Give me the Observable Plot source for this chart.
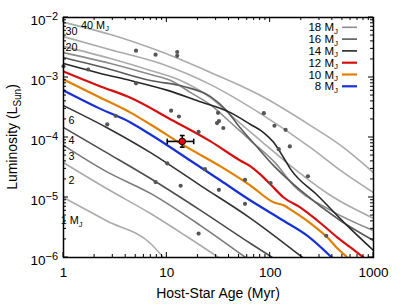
<!DOCTYPE html>
<html><head><meta charset="utf-8">
<script src="https://cdn.jsdelivr.net/npm/d3@7"></script>
<script src="https://cdn.jsdelivr.net/npm/@observablehq/plot@0.6"></script>
<style>
html,body{margin:0;padding:0;background:#fff;}
#chart svg{display:block;font-family:"Liberation Sans",Arial,sans-serif;}
</style></head><body><div id="chart"></div>
<script>
// Evolutionary tracks: age (Myr) and luminosity (L_Sun)
const age40 = [1, 2.85, 8.69, 26.5, 80.7, 246, 514, 1000];
const lum40 = [8.3e-3, 5.2e-3, 2.7e-3, 1.21e-3, 5.0e-4, 1.58e-4, 6.8e-5, 2.6e-5];
const age30 = [1, 2.85, 8.69, 26.5, 80.7, 246, 514, 1000];
const lum30 = [4.8e-3, 2.9e-3, 1.71e-3, 7.6e-4, 2.5e-4, 6.8e-5, 2.6e-5, 1.21e-5];
const age20 = [1, 2.85, 6.95, 13.6, 26.5, 46.3, 80.7, 157, 385, 1000];
const lum20 = [3.3e-3, 2.07e-3, 1.31e-3, 8.9e-4, 4.6e-4, 2.0e-4, 8.9e-5, 3.4e-5, 1.08e-5, 4.5e-6];
const age18 = [1, 2.85, 6.95, 10.9, 17.0, 26.5, 41.4, 64.6, 113, 169, 385, 1000];
const lum18 = [2.6e-3, 1.71e-3, 1.12e-3, 8.9e-4, 5.6e-4, 3.5e-4, 1.78e-4, 8.9e-5, 3.7e-5, 1.58e-5, 6.1e-6, 2.8e-6];
const age16 = [1, 2.85, 6.95, 14.5, 26.5, 38.7, 48.3, 72.2, 108, 197, 480, 1000];
const lum16 = [2.15e-3, 1.36e-3, 8.9e-4, 7.1e-4, 4.8e-4, 2.7e-4, 1.65e-4, 7.4e-5, 3.4e-5, 1.31e-5, 4.1e-6, 1.92e-6];
const age14 = [1, 2.28, 4.45, 10.2, 19.8, 41.4, 64.6, 86.3, 108, 135, 157, 288, 600, 1000];
const lum14 = [1.71e-3, 1.17e-3, 8.9e-4, 6.1e-4, 4.1e-4, 2.6e-4, 1.65e-4, 1.21e-4, 8.3e-5, 4.6e-5, 3.0e-5, 1.08e-5, 3.0e-6, 1.31e-6];
const age12 = [1, 2.28, 4.45, 11.4, 26.5, 51.7, 64.6, 80.7, 101, 135, 197, 288, 449, 600, 802];
const lum12 = [1.26e-3, 7.1e-4, 4.6e-4, 1.92e-4, 8.6e-5, 4.1e-5, 3.3e-5, 2.4e-5, 1.65e-5, 1.0e-5, 6.8e-6, 4.1e-6, 2.15e-6, 1.47e-6, 1.0e-6];
const age10 = [1, 2.28, 4.45, 6.95, 14.2, 33.1, 64.6, 108, 135, 169, 246, 359, 449, 562];
const lum10 = [9.3e-4, 4.6e-4, 2.6e-4, 1.65e-4, 7.6e-5, 3.3e-5, 1.58e-5, 8.3e-6, 7.4e-6, 5.8e-6, 3.7e-6, 2.15e-6, 1.41e-6, 1.0e-6];
const age8 = [1, 2.28, 4.45, 6.95, 17.0, 33.1, 64.6, 135, 230, 395];
const lum8 = [6.1e-4, 3.0e-4, 1.78e-4, 1.12e-4, 4.1e-5, 1.92e-5, 8.9e-6, 4.1e-6, 2.3e-6, 1.0e-6];
const age6 = [1, 2.61, 6.95, 21.2, 64.6, 206];
const lum6 = [3.4e-4, 1.47e-4, 5.6e-5, 1.58e-5, 4.5e-6, 1.0e-6];
const age4 = [1, 2.61, 6.95, 21.2, 64.6, 105];
const lum4 = [1.47e-4, 5.6e-5, 2.07e-5, 6.1e-6, 1.71e-6, 1.0e-6];
const age3 = [1, 2.61, 6.95, 21.2, 57.8];
const lum3 = [7.4e-5, 2.7e-5, 1.17e-5, 3.4e-6, 1.0e-6];
const age2 = [1, 2.61, 6.95, 15.2, 31.7];
const lum2 = [3.8e-5, 1.41e-5, 5.4e-6, 2.3e-6, 1.0e-6];
const age1 = [1, 2.61, 6.95, 9.29];
const lum1 = [1.0e-5, 4.1e-6, 1.71e-6, 1.0e-6];

// Known companions (gray dots)
const dotAge = [1, 1.73, 5.03, 7.78, 12.6, 12.6, 5.03, 2.65, 3.19, 11.0, 13.1, 20.3, 31.3, 30.6, 32.0, 35.2, 86.9, 110, 141, 121, 155, 10.1, 7.78, 13.6, 23.4, 31.9, 57.1, 57.1, 20.3, 101, 232, 349];
const dotLum = [1.54e-3, 1.36e-3, 2.8e-3, 2.4e-3, 2.66e-3, 2.3e-3, 8.0e-4, 1.65e-4, 2.3e-4, 2.8e-4, 2.24e-4, 1.24e-4, 2.58e-4, 1.74e-4, 1.88e-4, 1.44e-4, 2.54e-4, 1.57e-4, 1.34e-4, 6.4e-5, 7.1e-5, 3.7e-5, 1.81e-5, 1.57e-5, 2.96e-5, 1.34e-5, 1.97e-5, 7.85e-6, 2.5e-6, 1.74e-5, 2.26e-5, 2.3e-6];

// Highlighted object with error bars
const starAge = 14.1, starAgeLo = 10.1, starAgeHi = 18.2;
const starLum = 8.6e-5, starLumLo = 6.9e-5, starLumHi = 1.08e-4;

// Legend
const legendMass = [18, 16, 14, 12, 10, 8];

// Curve labels
const labelText = ["40", "30", "20", "6", "4", "3", "2", "1"];
const labelUnit = [true, false, false, false, false, false, false, true];
const labelAge = [2.04, 1.21, 1.21, 1.21, 1.21, 1.21, 1.21, 1.21];
const labelLum = [7.36e-3, 5.8e-3, 3.1e-3, 1.92e-4, 8.9e-5, 4.73e-5, 1.92e-5, 4.1e-6];

// Axes
const xMajor = [1, 10, 100, 1000];
const yMajor = [1e-6, 1e-5, 1e-4, 1e-3, 1e-2];

const tracks = [
  {m: 40, age: age40, lum: lum40, color: "#ababab", w: 1.6},
  {m: 30, age: age30, lum: lum30, color: "#ababab", w: 1.6},
  {m: 20, age: age20, lum: lum20, color: "#ababab", w: 1.6},
  {m: 18, age: age18, lum: lum18, color: "#8c8c8c", w: 1.6},
  {m: 16, age: age16, lum: lum16, color: "#5a5a5a", w: 1.6},
  {m: 14, age: age14, lum: lum14, color: "#262626", w: 1.6},
  {m: 6, age: age6, lum: lum6, color: "#333333", w: 1.6},
  {m: 4, age: age4, lum: lum4, color: "#4d4d4d", w: 1.6},
  {m: 3, age: age3, lum: lum3, color: "#7a7a7a", w: 1.6},
  {m: 2, age: age2, lum: lum2, color: "#ababab", w: 1.6},
  {m: 1, age: age1, lum: lum1, color: "#ababab", w: 1.6},
  {m: 12, age: age12, lum: lum12, color: "#d41010", w: 2.2},
  {m: 10, age: age10, lum: lum10, color: "#e07f00", w: 2.2},
  {m: 8, age: age8, lum: lum8, color: "#1630d4", w: 2.2}
];
const colorOf = m => tracks.find(t => t.m === m).color;

const dots = dotAge.map((a, i) => ({age: a, lum: dotLum[i]}));
const capV = {draw(ctx, size) { const r = Math.sqrt(size / Math.PI); ctx.moveTo(0, -r); ctx.lineTo(0, r); }};
const capH = {draw(ctx, size) { const r = Math.sqrt(size / Math.PI); ctx.moveTo(-r, 0); ctx.lineTo(r, 0); }};

const plot = Plot.plot({
  width: 407, height: 305,
  marginLeft: 63, marginRight: 34, marginTop: 17, marginBottom: 48,
  style: {fontFamily: "Liberation Sans, Arial, sans-serif", background: "white", color: "black"},
  x: {type: "log", domain: [1, 1000], axis: null},
  y: {type: "log", domain: [1e-6, 1e-2], axis: null},
  marks: [
    ...tracks.map(t => Plot.line(t.age.map((a, i) => ({age: a, lum: t.lum[i]})),
      {x: "age", y: "lum", stroke: t.color, strokeWidth: t.w, curve: "monotone-x", clip: true})),
    Plot.dot(dots, {x: "age", y: "lum", r: 2.1, fill: "#555"}),
    Plot.ruleY([{lum: starLum, lo: starAgeLo, hi: starAgeHi}], {y: "lum", x1: "lo", x2: "hi", stroke: "black", strokeWidth: 1.6}),
    Plot.ruleX([{age: starAge, lo: starLumLo, hi: starLumHi}], {x: "age", y1: "lo", y2: "hi", stroke: "black", strokeWidth: 1.6}),
    Plot.dot([starAgeLo, starAgeHi], {x: d => d, y: () => starLum, symbol: capV, r: 2.8, stroke: "black", strokeWidth: 1.6, fill: "none"}),
    Plot.dot([starLumLo, starLumHi], {x: () => starAge, y: d => d, symbol: capH, r: 2.4, stroke: "black", strokeWidth: 1.6, fill: "none"}),
    Plot.dot([{age: starAge, lum: starLum}], {x: "age", y: "lum", r: 3.3, fill: "#ee0000", stroke: "black", strokeWidth: 1}),
    Plot.axisX({ticks: xMajor, tickFormat: d => String(d), tickSize: 0, tickPadding: 10, fontSize: 13.5, label: null}),
    Plot.frame({stroke: "black", strokeWidth: 1.5})
  ]
});
document.getElementById("chart").appendChild(plot);

const sx = v => plot.scale("x").apply(v);
const sy = v => plot.scale("y").apply(v);
const svg = d3.select(plot);
const xl = sx(1), xr = sx(1000), yb = sy(1e-6), yt = sy(1e-2);

// inward ticks on all four sides
const tg = svg.append("g").attr("stroke", "black").attr("stroke-width", 1);
const xTicks = [];
for (let d = 1; d < 1000; d *= 10) for (let k = 1; k <= 9; k++) xTicks.push({v: d * k, major: k === 1});
xTicks.push({v: 1000, major: true});
xTicks.forEach(t => {
  const L = t.major ? 5 : 3, x = sx(t.v);
  tg.append("line").attr("x1", x).attr("x2", x).attr("y1", yb).attr("y2", yb - L);
  tg.append("line").attr("x1", x).attr("x2", x).attr("y1", yt).attr("y2", yt + L);
});
const yTicks = [];
for (let d = 1e-6; d < 0.009; d *= 10) for (let k = 1; k <= 9; k++) yTicks.push({v: d * k, major: k === 1});
yTicks.push({v: 1e-2, major: true});
yTicks.forEach(t => {
  const L = t.major ? 5 : 3, y = sy(t.v);
  tg.append("line").attr("x1", xl).attr("x2", xl + L).attr("y1", y).attr("y2", y);
  tg.append("line").attr("x1", xr).attr("x2", xr - L).attr("y1", y).attr("y2", y);
});

// y tick labels with superscript exponents
yMajor.forEach(v => {
  const e = Math.round(Math.log10(v));
  const t = svg.append("text").attr("x", xl - 5).attr("y", sy(v) + 8.3)
    .attr("text-anchor", "end").attr("font-size", 13.5).attr("fill", "black");
  t.append("tspan").text("10");
  t.append("tspan").attr("dy", -5).attr("font-size", 11).text("\u2212" + Math.abs(e));
});

// axis titles
svg.append("text").attr("x", (xl + xr) / 2).attr("y", 298).attr("text-anchor", "middle")
  .attr("font-size", 14).attr("fill", "black").text("Host-Star Age (Myr)");
const yt2 = svg.append("text").attr("transform", `translate(17,${(yb + yt) / 2}) rotate(-90)`)
  .attr("text-anchor", "middle").attr("font-size", 14).attr("fill", "black");
yt2.append("tspan").text("Luminosity (L");
yt2.append("tspan").attr("dy", 3.5).attr("font-size", 10).text("Sun");
yt2.append("tspan").attr("dy", -3.5).text(")");

// curve labels
labelText.forEach((s, i) => {
  const t = svg.append("text").attr("x", sx(labelAge[i])).attr("y", sy(labelLum[i]) + 3.9)
    .attr("font-size", 10.8).attr("fill", "black");
  t.append("tspan").text(s + (labelUnit[i] ? " M" : ""));
  if (labelUnit[i]) t.append("tspan").attr("dy", 2.5).attr("font-size", 7.5).text("J");
});

// legend
legendMass.forEach((m, i) => {
  const y = 27.3 + i * 11.8;
  const t = svg.append("text").attr("x", 338).attr("y", y + 4).attr("text-anchor", "end")
    .attr("font-size", 11.5).attr("fill", "black");
  t.append("tspan").text(m + " M");
  t.append("tspan").attr("dy", 2.5).attr("font-size", 8).text("J");
  svg.append("line").attr("x1", 342).attr("x2", 357).attr("y1", y).attr("y2", y)
    .attr("stroke", colorOf(m)).attr("stroke-width", m <= 12 ? 2.2 : 1.6);
});
</script></body></html>
